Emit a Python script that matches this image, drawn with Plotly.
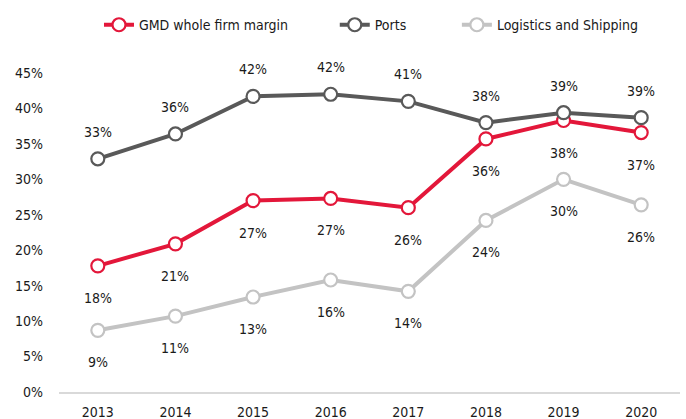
import plotly.graph_objects as go

years = [2013, 2014, 2015, 2016, 2017, 2018, 2019, 2020]
gmd = [17.8, 20.9, 27.0, 27.3, 26.0, 35.7, 38.3, 36.6]
ports = [32.9, 36.4, 41.7, 42.0, 41.0, 38.0, 39.4, 38.7]
logistics = [8.7, 10.7, 13.4, 15.8, 14.2, 24.2, 30.0, 26.4]
y_ticks = [0, 5, 10, 15, 20, 25, 30, 35, 40, 45]

FONT = "DejaVu Sans Condensed, Liberation Sans, sans-serif"

series = [
    ("GMD whole firm margin", gmd, "#E3173A", -32, "legend", 0.1443),
    ("Ports", ports, "#595959", 27, "legend2", 0.488),
    ("Logistics and Shipping", logistics, "#C3C3C3", -32, "legend3", 0.666),
]

fig = go.Figure()
annotations = []
legends = {}
for name, vals, color, shift, leg, lx in series:
    fig.add_trace(go.Scatter(
        x=years, y=vals, name=name, mode="lines+markers", legend=leg,
        line=dict(color=color, width=4),
        marker=dict(size=13, color="white", line=dict(color=color, width=2.2)),
    ))
    for x, v in zip(years, vals):
        annotations.append(dict(
            x=x, y=v, xref="x", yref="y", text=f"{round(v):.0f}%",
            showarrow=False, yshift=shift,
            font=dict(family=FONT, size=14, color="#1a1a1a"),
        ))
    legends[leg] = dict(orientation="h", xref="container", yref="container",
                        x=lx, xanchor="left", y=0.94, yanchor="middle",
                        bgcolor="rgba(0,0,0,0)",
                        font=dict(family=FONT, size=14, color="#1a1a1a"))

fig.update_layout(
    width=686, height=419,
    margin=dict(l=59, r=6, t=73, b=27, autoexpand=False),
    plot_bgcolor="white", paper_bgcolor="white",
    font=dict(family=FONT, size=14, color="#1a1a1a"),
    showlegend=True,
    annotations=annotations,
    xaxis=dict(range=[2012.5, 2020.5], tickvals=years, showgrid=False, showline=True,
               linecolor="#D9D9D9", linewidth=2, ticks="", zeroline=False,
               ticklabelstandoff=6, automargin=False),
    yaxis=dict(range=[0, 45], tickvals=y_ticks, ticktext=[f"{t}%" for t in y_ticks],
               showgrid=False, zeroline=False, showline=False, ticks="",
               ticklabelstandoff=15, automargin=False),
    **legends,
)

fig.write_html("out.html", config={"displayModeBar": False},
               post_script="document.body.style.margin='0';")
